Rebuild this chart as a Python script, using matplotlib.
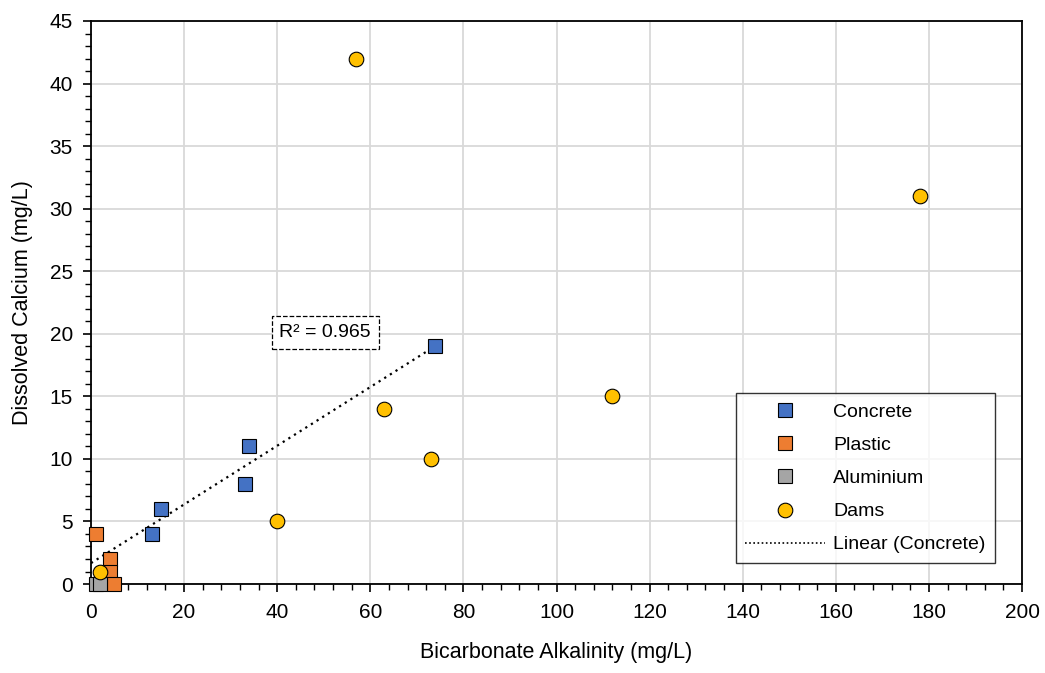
import numpy as np
from matplotlib import pyplot as plt
from matplotlib.ticker import MultipleLocator

plt.rcParams['font.family'] = ['Liberation Sans', 'DejaVu Sans']

# Bicarbonate alkalinity (x) vs dissolved calcium (y), mg/L
concrete_x = [13, 15, 33, 34, 74]
concrete_y = [4, 6, 8, 11, 19]
plastic_x = [1, 4, 4, 5]
plastic_y = [4, 2, 1, 0]
aluminium_x = [1, 2]
aluminium_y = [0, 0]
dams_x = [2, 40, 57, 63, 73, 112, 178]
dams_y = [1, 5, 42, 14, 10, 15, 31]
r2_label = 'R² = 0.965'

fig = plt.figure(figsize=(10.45, 6.73), dpi=100)
ax = fig.add_axes([0.0871, 0.1322, 0.8909, 0.8366])

# Linear fit through the concrete samples
slope, intercept = np.polyfit(concrete_x, concrete_y, 1)
fit_x = np.array([0, max(concrete_x)])
ax.plot(fit_x, slope * fit_x + intercept, color='black', linestyle=(0, (1, 2)),
        linewidth=1.6, zorder=2)

mk = dict(markersize=10.5, markeredgecolor='black', markeredgewidth=0.8,
          linestyle='none', zorder=3, clip_on=False)
ax.plot(concrete_x, concrete_y, 's', color='#4472C4', label='Concrete', **mk)
ax.plot(plastic_x, plastic_y, 's', color='#ED7D31', label='Plastic', **mk)
ax.plot(aluminium_x, aluminium_y, 's', color='#A5A5A5', label='Aluminium', **mk)
ax.plot(dams_x, dams_y, 'o', color='#FFC000', label='Dams', **mk)
ax.plot([], [], color='black', linestyle=(0, (1, 1.5)), linewidth=1.2,
        label='Linear (Concrete)')

ax.text(50.3, 20.1, r2_label, ha='center', va='center', fontsize=14,
        bbox=dict(boxstyle='square,pad=0.4', facecolor='white',
                  edgecolor='black', linestyle='--', linewidth=0.9))

ax.set_xlim(0, 200)
ax.set_ylim(0, 45)
ax.xaxis.set_major_locator(MultipleLocator(20))
ax.xaxis.set_minor_locator(MultipleLocator(4))
ax.yaxis.set_major_locator(MultipleLocator(5))
ax.yaxis.set_minor_locator(MultipleLocator(1))
ax.tick_params(which='major', direction='out', length=6, width=1.2,
               labelsize=15, color='black')
ax.tick_params(axis='x', which='major', pad=8)
ax.tick_params(axis='y', which='major', pad=7)
ax.tick_params(which='minor', direction='out', length=4, width=1.0,
               color='black')
ax.grid(True, which='major', color='#D9D9D9', linewidth=1.3, zorder=0)
ax.set_axisbelow(True)
for side in ax.spines.values():
    side.set_color('black')
    side.set_linewidth(1.3)

ax.set_xlabel('Bicarbonate Alkalinity (mg/L)', fontsize=15.5, labelpad=14)
ax.set_ylabel('Dissolved Calcium (mg/L)', fontsize=15.5, labelpad=12)

leg = ax.legend(loc='lower right', bbox_to_anchor=(0.971, 0.037),
                fontsize=14, frameon=True, fancybox=False, borderpad=0.5,
                labelspacing=0.8, handlelength=4.1, handletextpad=0.4,
                borderaxespad=0)
leg.get_frame().set_edgecolor('black')
leg.get_frame().set_linewidth(1.0)

fig.savefig('out.png', dpi=100)
